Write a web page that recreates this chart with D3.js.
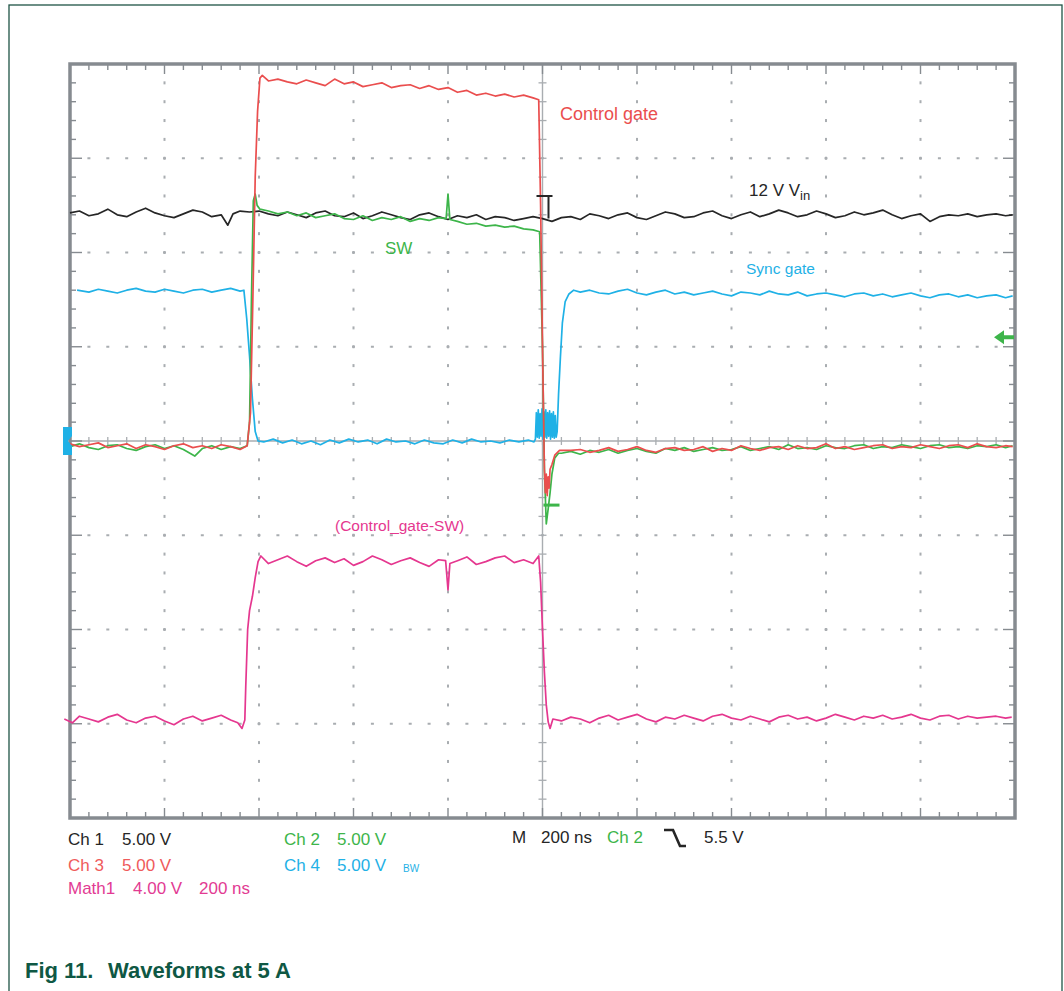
<!DOCTYPE html>
<html>
<head>
<meta charset="utf-8">
<script src="https://cdn.jsdelivr.net/npm/d3@7"></script>
<style>
  body { margin: 0; background: #fff; }
  svg { display: block; font-family: "Liberation Sans", Arial, Helvetica, sans-serif; }
</style>
</head>
<body>
<svg id="chart" width="1064" height="991"></svg>
<script>
"use strict";

// time in ns (200 ns/div), amplitude in divisions from the centre line
var timeDomain = [-1000, 1000];
var divDomain = [-4, 4];

// Ch 1 : 12 V Vin
var ch1 = [[-1000,2.42],[-980,2.44],[-960,2.39],[-940,2.41],[-920,2.46],[-900,2.40],[-880,2.38],[-860,2.43],
  [-840,2.47],[-820,2.42],[-800,2.39],[-780,2.37],[-760,2.41],[-740,2.45],[-720,2.43],[-700,2.38],[-680,2.40],
  [-666,2.29],[-655,2.41],[-640,2.44],[-620,2.43],[-600,2.44],[-580,2.41],[-560,2.39],[-540,2.43],[-520,2.40],
  [-500,2.37],[-480,2.42],[-460,2.44],[-440,2.39],[-420,2.38],[-400,2.42],[-380,2.36],[-360,2.39],[-340,2.43],
  [-320,2.40],[-300,2.37],[-280,2.35],[-260,2.40],[-240,2.42],[-220,2.38],[-200,2.35],[-180,2.39],[-160,2.37],
  [-140,2.40],[-120,2.35],[-100,2.38],[-80,2.37],[-60,2.34],[-40,2.36],[-20,2.38],[0,2.36],[20,2.33],[40,2.37],
  [60,2.38],[80,2.35],[100,2.41],[120,2.39],[140,2.36],[160,2.40],[180,2.42],[200,2.37],[220,2.35],[240,2.39],
  [260,2.43],[280,2.41],[300,2.37],[320,2.38],[340,2.42],[360,2.44],[380,2.39],[400,2.36],[420,2.40],[440,2.43],
  [460,2.38],[480,2.41],[500,2.45],[520,2.42],[540,2.38],[560,2.40],[580,2.44],[600,2.41],[620,2.37],[640,2.39],
  [660,2.43],[680,2.40],[700,2.42],[720,2.45],[740,2.40],[760,2.36],[780,2.39],[800,2.41],[820,2.33],[840,2.38],
  [860,2.40],[880,2.39],[900,2.41],[920,2.38],[940,2.40],[960,2.41],[980,2.39],[995,2.40]];

// Ch 2 : SW
var ch2 = [[-1000,-0.06],[-980,-0.03],[-960,-0.07],[-940,-0.09],[-920,-0.05],[-900,-0.04],[-880,-0.08],[-860,-0.10],
  [-840,-0.06],[-820,-0.04],[-800,-0.08],[-780,-0.05],[-760,-0.09],[-736,-0.16],[-720,-0.08],[-700,-0.05],
  [-680,-0.09],[-660,-0.06],[-640,-0.08],[-625,-0.05],[-620,0.20],[-616,1.50],[-612,2.55],[-608,2.62],[-604,2.50],
  [-598,2.46],[-580,2.44],[-560,2.41],[-540,2.43],[-520,2.39],[-500,2.42],[-480,2.37],[-460,2.39],[-440,2.41],
  [-420,2.36],[-400,2.35],[-380,2.39],[-360,2.34],[-340,2.37],[-320,2.35],[-300,2.38],[-280,2.33],[-260,2.36],
  [-240,2.34],[-220,2.37],[-204,2.36],[-200,2.62],[-196,2.35],[-180,2.33],[-160,2.30],[-140,2.31],[-120,2.28],
  [-100,2.29],[-80,2.27],[-60,2.28],[-40,2.25],[-20,2.24],[-6,2.22],[0,1.00],[4,-0.30],[8,-0.88],[12,-0.72],
  [16,-0.55],[20,-0.35],[26,-0.18],[34,-0.13],[40,-0.13],[60,-0.11],[80,-0.14],[100,-0.10],[120,-0.12],
  [140,-0.09],[160,-0.13],[180,-0.10],[200,-0.08],[220,-0.11],[240,-0.13],[260,-0.08],[280,-0.10],[300,-0.07],
  [320,-0.11],[340,-0.09],[360,-0.07],[380,-0.10],[400,-0.09],[420,-0.06],[440,-0.10],[460,-0.08],[480,-0.06],
  [500,-0.09],[520,-0.04],[540,-0.08],[560,-0.07],[580,-0.09],[600,-0.05],[620,-0.07],[640,-0.08],[660,-0.05],
  [680,-0.04],[700,-0.08],[720,-0.06],[740,-0.07],[760,-0.04],[780,-0.06],[800,-0.08],[820,-0.05],[840,-0.04],
  [860,-0.07],[880,-0.06],[900,-0.08],[920,-0.05],[940,-0.06],[960,-0.04],[980,-0.07],[995,-0.05]];
var ch2Ring = [[2,-0.68],[36,-0.68]];

// Ch 3 : Control gate
var ch3 = [[-1000,-0.03],[-980,-0.06],[-960,-0.04],[-940,-0.02],[-920,-0.07],[-900,-0.05],[-880,-0.03],[-860,-0.08],
  [-840,-0.04],[-820,-0.06],[-800,-0.09],[-780,-0.05],[-760,-0.03],[-740,-0.07],[-720,-0.05],[-700,-0.08],
  [-680,-0.04],[-660,-0.06],[-640,-0.09],[-625,-0.05],[-618,0.30],[-613,1.50],[-608,2.80],[-603,3.50],[-598,3.85],
  [-593,3.88],[-580,3.82],[-560,3.84],[-540,3.81],[-520,3.79],[-500,3.83],[-480,3.80],[-460,3.77],[-440,3.84],
  [-420,3.79],[-400,3.81],[-380,3.76],[-360,3.78],[-340,3.80],[-320,3.75],[-300,3.77],[-280,3.78],[-260,3.74],
  [-240,3.77],[-220,3.73],[-200,3.75],[-180,3.70],[-160,3.72],[-140,3.67],[-120,3.69],[-100,3.66],[-80,3.68],
  [-60,3.65],[-40,3.67],[-20,3.64],[-8,3.62],[-4,2.50],[0,1.00],[4,-0.30],[6,-0.55],[8,-0.35],[10,-0.58],
  [12,-0.38],[14,-0.50],[16,-0.30],[20,-0.25],[26,-0.15],[36,-0.10],[60,-0.10],[80,-0.09],[100,-0.12],[120,-0.10],
  [140,-0.07],[160,-0.11],[180,-0.09],[200,-0.06],[220,-0.10],[240,-0.12],[260,-0.08],[280,-0.07],[300,-0.10],
  [320,-0.09],[340,-0.06],[360,-0.11],[380,-0.08],[400,-0.10],[420,-0.05],[440,-0.08],[460,-0.10],[480,-0.07],
  [500,-0.06],[520,-0.09],[540,-0.05],[560,-0.08],[580,-0.07],[600,-0.03],[620,-0.08],[640,-0.06],[660,-0.09],
  [680,-0.07],[700,-0.05],[720,-0.04],[740,-0.08],[760,-0.06],[780,-0.07],[800,-0.04],[820,-0.06],[840,-0.08],
  [860,-0.05],[880,-0.04],[900,-0.07],[920,-0.03],[940,-0.06],[960,-0.07],[980,-0.05],[995,-0.06]];

// Ch 4 : Sync gate
var ch4 = [[-985,1.60],[-960,1.58],[-940,1.61],[-920,1.59],[-900,1.57],[-880,1.60],[-860,1.62],[-840,1.59],
  [-820,1.58],[-800,1.61],[-780,1.59],[-760,1.57],[-740,1.60],[-720,1.61],[-700,1.58],[-680,1.60],[-660,1.62],
  [-640,1.59],[-632,1.60],[-626,1.30],[-620,0.90],[-614,0.45],[-608,0.10],[-602,0.00],[-590,-0.01],[-570,0.02],
  [-550,-0.02],[-530,0.01],[-510,-0.03],[-490,0.00],[-470,-0.04],[-450,0.01],[-430,-0.02],[-410,0.02],
  [-390,-0.01],[-370,0.01],[-350,-0.03],[-330,0.02],[-310,-0.01],[-290,0.00],[-270,-0.03],[-250,0.01],
  [-230,-0.02],[-210,-0.03],[-190,0.01],[-170,-0.02],[-150,0.02],[-130,-0.01],[-110,0.00],[-90,-0.02],[-70,0.01],
  [-50,-0.01],[-30,0.01],[-18,-0.01],[-15,0.02],[-13,0.30],[-11,0.04],[-9,0.33],[-7,0.03],[-5,0.29],[-3,0.05],
  [-1,0.34],[1,0.02],[3,0.31],[5,0.04],[7,0.33],[9,0.03],[11,0.30],[13,0.05],[15,0.32],[17,0.02],[19,0.29],
  [21,0.04],[23,0.31],[25,0.03],[27,0.27],[29,0.04],[31,0.10],[34,0.50],[38,0.90],[42,1.25],[48,1.48],[56,1.56],
  [66,1.60],[80,1.58],[100,1.60],[120,1.57],[140,1.56],[160,1.59],[180,1.61],[200,1.57],[220,1.55],[240,1.58],
  [260,1.60],[280,1.56],[300,1.58],[320,1.55],[340,1.57],[360,1.59],[380,1.56],[400,1.54],[420,1.58],[440,1.57],
  [460,1.55],[480,1.59],[500,1.56],[520,1.55],[540,1.58],[560,1.54],[580,1.56],[600,1.57],[620,1.55],[640,1.53],
  [660,1.56],[680,1.57],[700,1.54],[720,1.56],[740,1.53],[760,1.55],[780,1.57],[800,1.54],[820,1.52],[840,1.55],
  [860,1.56],[880,1.53],[900,1.55],[920,1.52],[940,1.54],[960,1.55],[980,1.52],[995,1.54]];

// Math1 : (Control_gate-SW)
var math1 = [[-1012,-2.95],[-995,-2.99],[-980,-2.92],[-960,-2.95],[-940,-2.98],[-920,-2.93],[-900,-2.90],
  [-880,-2.96],[-860,-2.99],[-840,-2.94],[-820,-2.92],[-800,-2.97],[-780,-3.01],[-760,-2.95],[-740,-2.92],
  [-720,-2.97],[-700,-2.94],[-680,-2.91],[-660,-2.96],[-645,-2.99],[-636,-3.05],[-630,-2.96],[-628,-2.60],
  [-624,-2.00],[-620,-1.80],[-614,-1.65],[-608,-1.45],[-602,-1.28],[-596,-1.22],[-580,-1.30],[-560,-1.26],
  [-540,-1.22],[-520,-1.28],[-500,-1.33],[-480,-1.27],[-460,-1.24],[-440,-1.29],[-420,-1.25],[-400,-1.32],
  [-380,-1.28],[-360,-1.22],[-340,-1.26],[-320,-1.31],[-300,-1.27],[-280,-1.24],[-260,-1.29],[-240,-1.33],
  [-220,-1.26],[-205,-1.27],[-200,-1.58],[-196,-1.30],[-180,-1.27],[-160,-1.23],[-140,-1.31],[-120,-1.28],
  [-100,-1.24],[-80,-1.22],[-60,-1.29],[-40,-1.26],[-20,-1.30],[-8,-1.22],[-4,-1.50],[0,-2.00],[4,-2.45],
  [8,-2.80],[12,-2.98],[16,-3.05],[22,-2.95],[40,-2.97],[60,-2.93],[80,-2.95],[100,-2.99],[120,-2.94],
  [140,-2.91],[160,-2.96],[180,-2.93],[200,-2.90],[220,-2.95],[240,-2.98],[260,-2.93],[280,-2.95],[300,-2.91],
  [320,-2.94],[340,-2.97],[360,-2.92],[380,-2.90],[400,-2.94],[420,-2.96],[440,-2.92],[460,-2.95],[480,-2.98],
  [500,-2.93],[520,-2.91],[540,-2.95],[560,-2.93],[580,-2.97],[600,-2.94],[620,-2.90],[640,-2.93],[660,-2.96],
  [680,-2.92],[700,-2.94],[720,-2.91],[740,-2.95],[760,-2.93],[780,-2.90],[800,-2.94],[820,-2.96],[840,-2.92],
  [860,-2.91],[880,-2.95],[900,-2.92],[920,-2.94],[940,-2.93],[960,-2.92],[980,-2.94],[993,-2.93]];

// trigger: Ch 2, 5.5 V at 5 V/div
var triggerLevel = 5.5 / 5.0;

var colours = {
  ch1: "#262626",
  ch2: "#3db54a",
  ch3: "#ea4e4e",
  ch4: "#1fb1e6",
  math: "#e5378f",
  grid: "#a9adb1",
  frame: "#868b90",
  title: "#0f5844"
};

var svg = d3.select('#chart');
var x = d3.scaleLinear().domain(timeDomain).range([70, 1015]);
var y = d3.scaleLinear().domain(divDomain).range([818, 64]);

// outer page border
svg.append('rect')
  .attr('x', 9).attr('y', 5).attr('width', 1053).attr('height', 1010)
  .attr('fill', 'none').attr('stroke', '#1f5446').attr('stroke-width', 1.3);

var minorX = d3.range(0, 51).map(function (i) { return -1000 + i * 40; }),
    minorY = d3.range(0, 41).map(function (i) { return -4 + i * 0.2; }),
    majorX = d3.range(-1000, 1001, 200),
    majorY = d3.range(-4, 5, 1);

var g = svg.append('g');

// dotted graticule
majorX.slice(1, -1).filter(function (t) { return t !== 0; }).forEach(function (t) {
  g.selectAll(null).data(minorY.slice(1, -1)).enter().append('rect')
    .attr('x', x(t) - 1).attr('y', function (d) { return y(d) - 1.5; })
    .attr('width', 2).attr('height', 3).attr('fill', colours.grid);
});
majorY.slice(1, -1).filter(function (v) { return v !== 0; }).forEach(function (v) {
  g.selectAll(null).data(minorX.slice(1, -1)).enter().append('rect')
    .attr('x', function (d) { return x(d) - 1.5; }).attr('y', y(v) - 1)
    .attr('width', 3).attr('height', 2).attr('fill', colours.grid);
});

// centre cross with minor ticks
g.append('line').attr('x1', x(-1000)).attr('x2', x(1000)).attr('y1', y(0)).attr('y2', y(0))
  .attr('stroke', colours.grid).attr('stroke-width', 1.4);
g.append('line').attr('x1', x(0)).attr('x2', x(0)).attr('y1', y(-4)).attr('y2', y(4))
  .attr('stroke', colours.grid).attr('stroke-width', 1.4);
g.selectAll(null).data(minorX).enter().append('line')
  .attr('x1', function (d) { return x(d); }).attr('x2', function (d) { return x(d); })
  .attr('y1', y(0) - 4).attr('y2', y(0) + 4)
  .attr('stroke', colours.grid).attr('stroke-width', 1.3);
g.selectAll(null).data(minorY).enter().append('line')
  .attr('y1', function (d) { return y(d); }).attr('y2', function (d) { return y(d); })
  .attr('x1', x(0) - 4).attr('x2', x(0) + 4)
  .attr('stroke', colours.grid).attr('stroke-width', 1.3);

// frame ticks
function isMajorX(t) { return t % 200 === 0; }
function isMajorY(v) { return Math.abs(v - Math.round(v)) < 1e-6; }
[[y(4), 1], [y(-4), -1]].forEach(function (edge) {
  g.selectAll(null).data(minorX.slice(1, -1)).enter().append('line')
    .attr('x1', function (d) { return x(d); }).attr('x2', function (d) { return x(d); })
    .attr('y1', edge[0])
    .attr('y2', function (d) { return edge[0] + edge[1] * (isMajorX(d) ? 10 : 6); })
    .attr('stroke', colours.frame).attr('stroke-width', 1.4);
});
[[x(-1000), 1], [x(1000), -1]].forEach(function (edge) {
  g.selectAll(null).data(minorY.slice(1, -1)).enter().append('line')
    .attr('y1', function (d) { return y(d); }).attr('y2', function (d) { return y(d); })
    .attr('x1', edge[0])
    .attr('x2', function (d) { return edge[0] + edge[1] * (isMajorY(d) ? 12 : 6); })
    .attr('stroke', colours.frame).attr('stroke-width', 1.4);
});

g.append('rect')
  .attr('x', x(-1000)).attr('y', y(4))
  .attr('width', x(1000) - x(-1000)).attr('height', y(-4) - y(4))
  .attr('fill', 'none').attr('stroke', colours.frame).attr('stroke-width', 3.5);

// traces
var line = d3.line().x(function (d) { return x(d[0]); }).y(function (d) { return y(d[1]); });
var traces = [
  { data: ch1, colour: colours.ch1 },
  { data: ch4, colour: colours.ch4 },
  { data: ch2, colour: colours.ch2 },
  { data: ch2Ring, colour: colours.ch2, width: 3 },
  { data: ch3, colour: colours.ch3 },
  { data: math1, colour: colours.math }
];
svg.append('g').selectAll('path').data(traces).enter().append('path')
  .attr('d', function (d) { return line(d.data); })
  .attr('fill', 'none')
  .attr('stroke', function (d) { return d.colour; })
  .attr('stroke-width', function (d) { return d.width || 1.7; })
  .attr('stroke-linejoin', 'round');

// markers: Ch 4 ground, Ch 2 trigger level, trigger position
var gx = x(-1000), gy = y(0);
svg.append('path')
  .attr('d', 'M' + (gx - 7) + ',' + (gy - 14) + 'h9v9l-4,5l4,5v9h-9z')
  .attr('fill', colours.ch4);
var ty = y(triggerLevel), tx = x(1000);
svg.append('path')
  .attr('d', 'M' + (tx - 21) + ',' + ty + 'l10,-7v5h10v4h-10v5z')
  .attr('fill', colours.ch2);
var px = x(0);
svg.append('path')
  .attr('d', 'M' + (px - 6) + ',' + y(2.6) + 'h16M' + (px + 6) + ',' + y(2.6) + 'V' + y(2.36))
  .attr('stroke', colours.ch1).attr('stroke-width', 2).attr('fill', 'none');

// trace labels
function label(txt, lx, ly, size, colour) {
  return svg.append('text').attr('x', lx).attr('y', ly)
    .attr('font-size', size).attr('fill', colour).text(txt);
}
label('Control gate', 560, 120, 18, colours.ch3);
label('SW', 385, 254, 17, colours.ch2);
label('Sync gate', 746, 274, 15.5, colours.ch4);
label('(Control_gate-SW)', 335, 531, 15.5, colours.math);
var vin = label('12 V V', 749, 196, 17, colours.ch1);
vin.append('tspan').attr('dy', 4).attr('font-size', 13).text('in');

// readout
label('Ch 1', 68, 845, 17, colours.ch1);
label('5.00 V', 122, 845, 17, colours.ch1);
label('Ch 3', 68, 871, 17, '#ef5b5b');
label('5.00 V', 122, 871, 17, '#ef5b5b');
label('Math1', 68, 894, 17, '#e23b93');
label('4.00 V', 133, 894, 17, '#e23b93');
label('200 ns', 199, 894, 17, '#e23b93');
label('Ch 2', 284, 845, 17, colours.ch2);
label('5.00 V', 337, 845, 17, colours.ch2);
label('Ch 4', 284, 871, 17, colours.ch4);
label('5.00 V', 337, 871, 17, colours.ch4);
label('BW', 403, 872, 10, colours.ch4);
label('M', 512, 843, 17, colours.ch1);
label('200 ns', 541, 843, 17, colours.ch1);
label('Ch 2', 607, 843, 17, colours.ch2);
svg.append('path').attr('d', 'M664,830h9l7,16h6')
  .attr('fill', 'none').attr('stroke', colours.ch1).attr('stroke-width', 2.6);
label('5.5 V', 704, 843, 17, colours.ch1);

// caption
label('Fig 11.', 25, 978, 22, colours.title).attr('font-weight', 'bold');
label('Waveforms at 5 A', 108, 978, 22, colours.title).attr('font-weight', 'bold');
</script>
</body>
</html>
